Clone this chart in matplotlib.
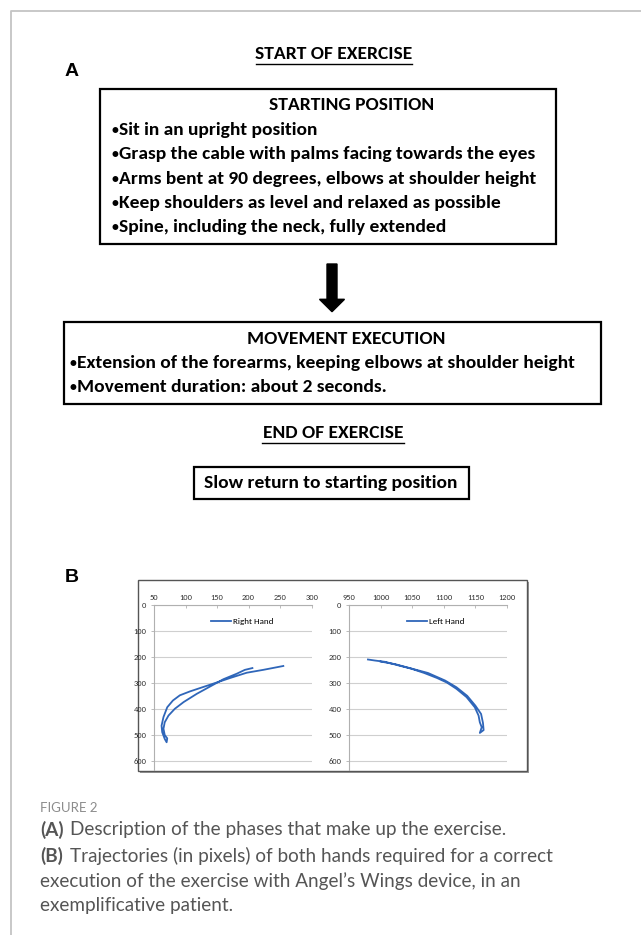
import matplotlib
matplotlib.use("Agg")
import matplotlib.pyplot as plt
from matplotlib import font_manager as fm
from matplotlib.patches import Rectangle, FancyArrow


def pick_font(names):
    for n in names:
        try:
            fm.findfont(fm.FontProperties(family=n), fallback_to_default=False)
            return n
        except ValueError:
            pass
    return "DejaVu Sans"


NARROW = pick_font(["Carlito", "Liberation Sans Narrow", "Lato"])
CAPTION = pick_font(["Lato", "Open Sans"])
HEAVY = pick_font(["Liberation Sans", "DejaVu Sans"])

# ---- data (trajectories, pixels) ----
right_x = [206, 194, 181, 160, 139, 118, 97, 83, 73, 67, 65, 67, 71, 70, 67, 63, 62,
           65, 71, 80, 91, 107, 128, 149, 171, 197, 223, 255]
right_y = [243, 250, 265, 286, 314, 342, 374, 400, 426, 452, 477, 501, 514, 529, 516,
           490, 465, 432, 394, 368, 348, 333, 316, 299, 281, 261, 250, 235]

left_x = [980, 991, 1007, 1027, 1048, 1069, 1089, 1105, 1120, 1136, 1149, 1155, 1157,
          1160, 1157, 1163, 1162, 1159, 1150, 1137, 1120, 1102, 1075, 1049, 1023, 1000]
left_y = [210, 214, 219, 232, 245, 262, 281, 299, 323, 355, 394, 426, 452, 471, 493,
          482, 455, 420, 388, 350, 317, 291, 262, 245, 228, 218]

right_xticks = [50, 100, 150, 200, 250, 300]
left_xticks = [950, 1000, 1050, 1100, 1150, 1200]
yticks = [0, 100, 200, 300, 400, 500, 600]

start_lines = [
    "Sit in an upright position",
    "Grasp the cable with palms facing towards the eyes",
    "Arms bent at 90 degrees, elbows at shoulder height",
    "Keep shoulders as level and relaxed as possible",
    "Spine, including the neck, fully extended",
]
move_lines = [
    "Extension of the forearms, keeping elbows at shoulder height",
    "Movement duration: about 2 seconds.",
]

LINE_BLUE = "#2f66b9"
FS = 14

fig = plt.figure(figsize=(6.41, 9.35), dpi=100)
bg = fig.add_axes([0, 0, 1, 1])
bg.set_xlim(0, 641)
bg.set_ylim(935, 0)
bg.axis("off")

# page border
bg.plot([11, 11, 641], [935, 11, 11], color="#c4c4c4", lw=1.3)

# panel labels
bg.text(72, 72, "A", fontsize=14, fontweight="heavy", family=HEAVY, ha="center", va="center")
bg.text(72, 577, "B", fontsize=14, fontweight="heavy", family=HEAVY, ha="center", va="center")

txt = dict(family=NARROW, fontweight="bold", va="center", color="black")

bg.text(334, 54, "START OF EXERCISE", fontsize=FS, ha="center", **txt)
bg.plot([256, 412], [63.5, 63.5], color="black", lw=1)

bg.add_patch(Rectangle((100, 89), 456, 155, fill=False, ec="black", lw=1.6))
bg.text(352, 105, "STARTING POSITION", fontsize=FS, ha="center", **txt)
for i, s in enumerate(start_lines):
    y = 130 + i * 24.3
    bg.text(111, y, "\u2022", fontsize=10, ha="left", **txt)
    bg.text(119, y, s, fontsize=FS, ha="left", **txt)

bg.add_patch(FancyArrow(332, 264, 0, 47.7, width=10, head_width=25, head_length=12.4,
                        length_includes_head=True, color="black"))

bg.add_patch(Rectangle((64, 322), 537, 82, fill=False, ec="black", lw=1.6))
bg.text(346, 339, "MOVEMENT EXECUTION", fontsize=FS, ha="center", **txt)
for i, s in enumerate(move_lines):
    y = 363 + i * 24
    bg.text(69, y, "\u2022", fontsize=10, ha="left", **txt)
    bg.text(77, y, s, fontsize=FS, ha="left", **txt)

bg.text(333, 433, "END OF EXERCISE", fontsize=FS, ha="center", **txt)
bg.plot([262, 404], [442.5, 442.5], color="black", lw=1)

bg.add_patch(Rectangle((194, 467), 275, 32, fill=False, ec="black", lw=1.6))
bg.text(331, 483, "Slow return to starting position", fontsize=FS, ha="center", **txt)

# panel B frame
bg.add_patch(Rectangle((140, 582), 389, 191, fc="#9a9a9a", ec="none"))
bg.add_patch(Rectangle((138, 580), 389, 191, fc="white", ec="#555555", lw=1.0))

# caption
bg.text(40, 808, "FIGURE 2", fontsize=9.5, color="#8c8c8c", family=CAPTION, va="center")
cap = dict(fontsize=13.6, color="#555555", family=CAPTION, va="center")
bg.text(40, 830, "(A)", fontweight="bold", **cap)
bg.text(70, 830, "Description of the phases that make up the exercise.", **cap)
bg.text(40, 856, "(B)", fontweight="bold", **cap)
bg.text(70, 856, "Trajectories (in pixels) of both hands required for a correct", **cap)
bg.text(40, 881, "execution of the exercise with Angel\u2019s Wings device, in an", **cap)
bg.text(40, 906, "exemplificative patient.", **cap)


def hand_axes(rect, xs, ys, xticks, label, legend_x):
    ax = fig.add_axes(rect)
    ax.set_facecolor("none")
    ax.plot(xs, ys, color=LINE_BLUE, lw=1.3, label=label)
    ax.set_xlim(xticks[0], xticks[-1])
    ax.set_ylim(637, 0)
    ax.set_xticks(xticks)
    ax.set_yticks(yticks)
    ax.xaxis.tick_top()
    for s in ["right", "bottom"]:
        ax.spines[s].set_visible(False)
    for s in ["top", "left"]:
        ax.spines[s].set_color("#b0b0b0")
        ax.spines[s].set_linewidth(0.8)
    ax.grid(axis="y", color="#cfcfcf", lw=0.8)
    ax.set_axisbelow(True)
    ax.tick_params(axis="both", length=2.5, width=0.6, color="#b0b0b0",
                   labelsize=6, labelcolor="#333333", pad=3)
    ax.tick_params(axis="x", direction="in")
    for t in ax.get_xticklabels() + ax.get_yticklabels():
        t.set_family(NARROW)
    leg = ax.legend(loc="center", bbox_to_anchor=(legend_x, 0.90),
                    frameon=True, framealpha=1, edgecolor="none", handlelength=2.2,
                    borderpad=0.3, handletextpad=0.3, prop={"family": NARROW, "size": 6.5})
    leg.get_frame().set_facecolor("white")
    return ax


top, bot = 605, 770.3
h = (bot - top) / 935
hand_axes([154 / 641, 1 - bot / 935, (311.7 - 154) / 641, h],
          right_x, right_y, right_xticks, "Right Hand", 0.56)
hand_axes([349 / 641, 1 - bot / 935, (507 - 349) / 641, h],
          left_x, left_y, left_xticks, "Left Hand", 0.55)

fig.savefig("out.png", dpi=100)
